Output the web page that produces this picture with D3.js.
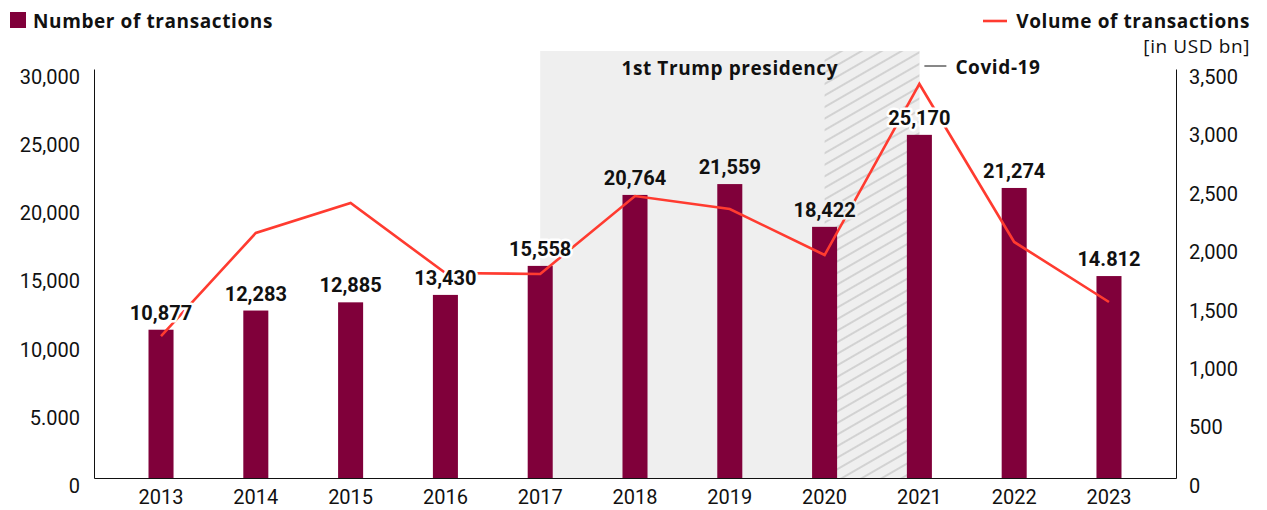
<!DOCTYPE html>
<html>
<head>
<meta charset="utf-8">
<script src="https://cdn.jsdelivr.net/npm/d3@7"></script>
<style>
  html, body { margin: 0; padding: 0; background: #fff; }
  svg { display: block; font-family: Roboto, "Noto Sans", sans-serif; }
  .title { font-family: "Open Sans", Roboto, sans-serif; letter-spacing: 0.6px; }
</style>
</head>
<body>
<div id="chart"></div>
<script>
// Data
const years = ['2013', '2014', '2015', '2016', '2017', '2018', '2019', '2020', '2021', '2022', '2023'];
const transactions = [10877, 12283, 12885, 13430, 15558, 20764, 21559, 18422, 25170, 21274, 14812];
const transactionLabels = ['10,877', '12,283', '12,885', '13,430', '15,558', '20,764', '21,559', '18,422', '25,170', '21,274', '14.812'];
const volume = [1215, 2097, 2353, 1754, 1746, 2413, 2302, 1908, 3372, 2020, 1506];

const leftTicks = [0, 5000, 10000, 15000, 20000, 25000, 30000];
const leftTickLabels = ['0', '5.000', '10,000', '15,000', '20,000', '25,000', '30,000'];
const rightTicks = [0, 500, 1000, 1500, 2000, 2500, 3000, 3500];
const rightTickLabels = ['0', '500', '1,000', '1,500', '2,000', '2,500', '3,000', '3,500'];

const trumpPeriod = { label: '1st Trump presidency', from: '2017', to: '2021' };
const covidPeriod = { label: 'Covid-19', from: '2020', to: '2021' };

const barColor = '#80003a';
const lineColor = '#ff3b30';
const greyBg = '#efefef';

const W = 1267, H = 510;
const plot = { left: 94, right: 1176, top: 69, bottom: 478 };
const bandTop = 51;

const svg = d3.select('#chart').append('svg')
    .attr('width', W)
    .attr('height', H);

// Scales
const x = d3.scaleBand()
    .domain(years)
    .range([plot.left, plot.right])
    .paddingInner(0.736)
    .paddingOuter(0.575);
const cx = d => x(d) + x.bandwidth() / 2;

const yLeft = d3.scaleLinear().domain([0, 30000]).range([plot.bottom, plot.top]);
const yRight = d3.scaleLinear().domain([0, 3500]).range([plot.bottom, plot.top]);

// Hatch pattern for Covid period
const defs = svg.append('defs');
const pattern = defs.append('pattern')
    .attr('id', 'hatch')
    .attr('patternUnits', 'userSpaceOnUse')
    .attr('width', 10)
    .attr('height', 10)
    .attr('patternTransform', 'rotate(-30)');
pattern.append('rect')
    .attr('width', 10).attr('height', 10)
    .attr('fill', greyBg);
pattern.append('line')
    .attr('x1', 0).attr('x2', 10)
    .attr('y1', 5).attr('y2', 5)
    .attr('stroke', '#c9c9c9')
    .attr('stroke-width', 1.5);

// Period backgrounds
svg.append('rect')
    .attr('x', cx(trumpPeriod.from))
    .attr('y', bandTop)
    .attr('width', cx(trumpPeriod.to) - cx(trumpPeriod.from))
    .attr('height', plot.bottom - bandTop)
    .attr('fill', greyBg);

svg.append('rect')
    .attr('x', cx(covidPeriod.from))
    .attr('y', bandTop)
    .attr('width', cx(covidPeriod.to) - cx(covidPeriod.from))
    .attr('height', plot.bottom - bandTop)
    .attr('fill', 'url(#hatch)');

svg.append('text')
    .attr('class', 'title')
    .attr('x', (cx(trumpPeriod.from) + cx(trumpPeriod.to)) / 2)
    .attr('y', 75)
    .attr('text-anchor', 'middle')
    .style('font-size', '19px')
    .style('font-weight', '700')
    .style('fill', '#111')
    .text(trumpPeriod.label);

const covidX = cx(covidPeriod.to);
svg.append('line')
    .attr('x1', covidX + 5).attr('x2', covidX + 27)
    .attr('y1', 66).attr('y2', 66)
    .attr('stroke', '#111')
    .attr('stroke-width', 1);
svg.append('text')
    .attr('class', 'title')
    .attr('x', covidX + 36)
    .attr('y', 74)
    .style('font-size', '19px')
    .style('font-weight', '700')
    .style('fill', '#111')
    .text(covidPeriod.label);

// Bars
svg.selectAll('.bar')
    .data(years)
    .enter()
    .append('rect')
    .attr('class', 'bar')
    .attr('x', d => x(d))
    .attr('y', (d, i) => yLeft(transactions[i]))
    .attr('width', x.bandwidth())
    .attr('height', (d, i) => plot.bottom - yLeft(transactions[i]))
    .attr('fill', barColor);

// Volume line
const line = d3.line()
    .x((d, i) => cx(years[i]))
    .y(d => yRight(d));

svg.append('path')
    .datum(volume)
    .attr('fill', 'none')
    .attr('stroke', lineColor)
    .attr('stroke-width', 2.6)
    .attr('d', line);

// Bar value labels (with halo hiding the line behind them)
const inGrey = y => y >= '2018' && y <= '2020';
svg.selectAll('.bar-label')
    .data(years)
    .enter()
    .append('text')
    .attr('class', 'bar-label')
    .attr('x', d => cx(d))
    .attr('y', (d, i) => yLeft(transactions[i]) - 10)
    .attr('text-anchor', 'middle')
    .style('font-size', '20px')
    .style('font-weight', '700')
    .style('fill', '#111')
    .style('paint-order', 'stroke')
    .style('stroke', d => inGrey(d) ? greyBg : '#fff')
    .style('stroke-width', '5px')
    .style('stroke-linejoin', 'round')
    .text((d, i) => transactionLabels[i]);

// Axes
const leftAxis = d3.axisLeft(yLeft)
    .tickValues(leftTicks)
    .tickFormat((d, i) => leftTickLabels[i])
    .tickSize(0)
    .tickSizeOuter(0)
    .tickPadding(14);

svg.append('g')
    .attr('transform', `translate(${plot.left},0)`)
    .call(leftAxis)
    .call(g => g.select('.domain').attr('stroke', '#111'))
    .selectAll('text')
    .attr('y', 8)
    .style('font-family', 'Roboto, sans-serif')
    .style('font-size', '20px')
    .style('fill', '#111');

const rightAxis = d3.axisRight(yRight)
    .tickValues(rightTicks)
    .tickFormat((d, i) => rightTickLabels[i])
    .tickSize(0)
    .tickSizeOuter(0)
    .tickPadding(13);

svg.append('g')
    .attr('transform', `translate(${plot.right},0)`)
    .call(rightAxis)
    .call(g => g.select('.domain').attr('stroke', '#111'))
    .selectAll('text')
    .attr('y', 8)
    .style('font-family', 'Roboto, sans-serif')
    .style('font-size', '20px')
    .style('fill', '#111');

const bottomAxis = d3.axisBottom(x)
    .tickSize(0)
    .tickSizeOuter(0)
    .tickPadding(12);

svg.append('g')
    .attr('transform', `translate(0,${plot.bottom})`)
    .call(bottomAxis)
    .call(g => g.select('.domain').attr('stroke', '#111'))
    .selectAll('text')
    .style('font-family', 'Roboto, sans-serif')
    .style('font-size', '20px')
    .style('fill', '#111');

// Legends
svg.append('rect')
    .attr('x', 10).attr('y', 12)
    .attr('width', 16).attr('height', 16)
    .attr('fill', barColor);
svg.append('text')
    .attr('class', 'title')
    .attr('x', 33).attr('y', 28)
    .style('font-size', '19px')
    .style('font-weight', '700')
    .style('fill', '#111')
    .text('Number of transactions');

svg.append('line')
    .attr('x1', 983).attr('x2', 1007)
    .attr('y1', 21).attr('y2', 21)
    .attr('stroke', lineColor)
    .attr('stroke-width', 2.6);
svg.append('text')
    .attr('class', 'title')
    .attr('x', 1250).attr('y', 28)
    .attr('text-anchor', 'end')
    .style('font-size', '19px')
    .style('font-weight', '700')
    .style('fill', '#111')
    .text('Volume of transactions');
svg.append('text')
    .attr('class', 'title')
    .attr('x', 1250).attr('y', 53)
    .attr('text-anchor', 'end')
    .style('font-size', '19px')
    .style('fill', '#111')
    .text('[in USD bn]');
</script>
</body>
</html>
